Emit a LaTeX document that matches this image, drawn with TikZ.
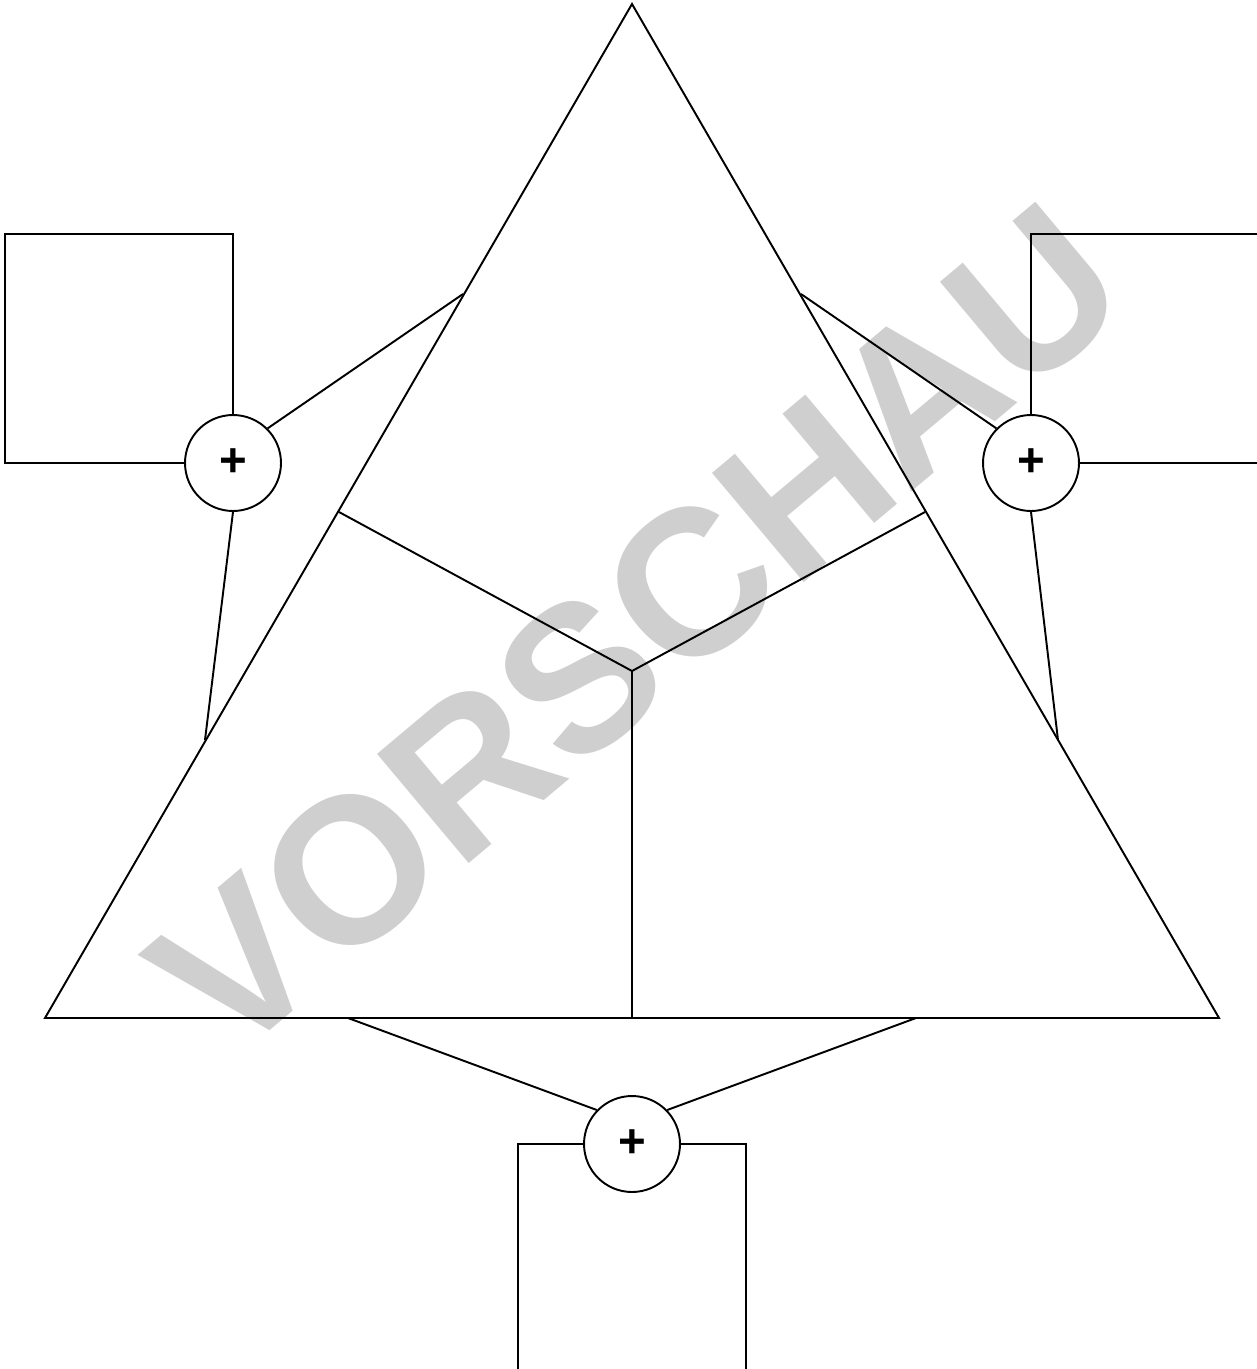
\documentclass[tikz,border=0pt]{standalone}
\usepackage{fontspec}
\setmainfont{Liberation Sans}
\definecolor{wmgray}{RGB}{207,207,207}
\begin{document}
\begin{tikzpicture}[x=0.02cm,y=-0.02cm,
  line/.style={line width=1.1pt, line join=miter},
  sumnode/.style={circle, draw, line width=1.1pt, minimum size=1.92cm, inner sep=0pt, fill=white,
    font=\fontsize{27}{28}\selectfont\bfseries},
  watermark/.style={text=wmgray, font=\fontsize{118}{120}\selectfont\bfseries, inner sep=0pt, anchor=base, rotate=40}]
\useasboundingbox (0,0) rectangle (1257,1369);
\clip (0,0) rectangle (1257,1369);
% watermark
\node[watermark] (wm) at (683,684) {VORSCHAU};
% triangle
\coordinate (A) at (632,4);
\coordinate (BL) at (45,1018);
\coordinate (BR) at (1219,1018);
\coordinate (M) at (632,671);
\coordinate (ML) at (339,512);
\coordinate (MR) at (925,512);
\coordinate (MB) at (632,1018);
\draw[line] (A) -- (BL) -- (BR) -- cycle;
\draw[line] (ML) -- (M) -- (MR);
\draw[line] (M) -- (MB);
% summing circles
\node[sumnode] (cl) at (233,463) {+};
\node[sumnode] (cr) at (1031,463) {+};
\node[sumnode] (cb) at (632,1144) {+};
% left box
\coordinate (lbtl) at (5,234);
\coordinate (lbtr) at (233,234);
\coordinate (lbbl) at (5,463);
\draw[line] (cl.north) -- (lbtr) -- (lbtl) -- (lbbl) -- (cl.west);
% right box
\coordinate (rbtl) at (1031,234);
\coordinate (rbtr) at (1262,234);
\coordinate (rbbr) at (1262,463);
\draw[line] (cr.north) -- (rbtl) -- (rbtr) -- (rbbr) -- (cr.east);
% bottom box
\coordinate (bbtl) at (518,1144);
\coordinate (bbbl) at (518,1375);
\coordinate (bbtr) at (746,1144);
\coordinate (bbbr) at (746,1375);
\draw[line] (cb.west) -- (bbtl) -- (bbbl);
\draw[line] (cb.east) -- (bbtr) -- (bbbr);
% connectors to triangle
\coordinate (lu) at (463,294);
\coordinate (ll) at (205,740);
\coordinate (ru) at (801,294);
\coordinate (rl) at (1058,740);
\coordinate (bl) at (348,1018);
\coordinate (br) at (916,1018);
\draw[line] (cl.45) -- (lu);
\draw[line] (cl.south) -- (ll);
\draw[line] (cr.135) -- (ru);
\draw[line] (cr.south) -- (rl);
\draw[line] (cb.136) -- (bl);
\draw[line] (cb.44) -- (br);
\end{tikzpicture}
\end{document}
